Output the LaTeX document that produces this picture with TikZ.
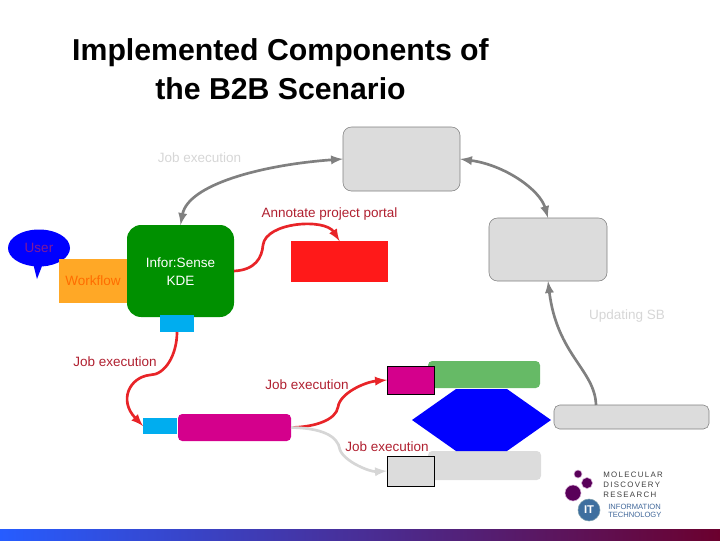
\documentclass[tikz,border=0pt]{standalone}
\usepackage{fontspec}
\setmainfont{Liberation Sans}
\usetikzlibrary{shapes.callouts}

\definecolor{labelred}{RGB}{176,32,48}
\definecolor{labelgrey}{RGB}{214,214,214}
\definecolor{boxgrey}{RGB}{220,220,220}
\definecolor{edgegrey}{RGB}{128,128,128}
\definecolor{kdegreen}{RGB}{0,144,0}
\definecolor{linered}{RGB}{232,36,40}
\definecolor{barmagenta}{RGB}{212,0,140}

\tikzset{
  plainbox/.style={inner sep=0pt,outer sep=0pt},
  greybox/.style={plainbox,draw=edgegrey,fill=boxgrey,rounded corners=6pt},
  blackbox/.style={plainbox,draw=black,line width=0.6pt},
  redlabel/.style={text=labelred,font=\fontsize{9.6}{11}\selectfont,inner sep=0pt},
  greylabel/.style={text=labelgrey,font=\fontsize{9.6}{11}\selectfont,inner sep=0pt},
  greyline/.style={draw=edgegrey,line width=1.9pt,-latex},
  redline/.style={draw=linered,line width=1.9pt,-latex},
  paleline/.style={draw=labelgrey,line width=1.9pt,-latex}
}

\begin{document}
\begin{tikzpicture}[x=0.025cm,y=-0.025cm]

\useasboundingbox (0,0) rectangle (720,540);

\shade[left color=blue!75!cyan!85!white,middle color=blue!45!red!70!white,right color=red!70!blue!60!black] (0,529) rectangle (720,540);

\node[font=\bfseries\fontsize{21.5}{28}\selectfont,align=center,inner sep=0pt] (title) at (280.5,69.5) {Implemented Components of\\the B2B Scenario};

% grey boxes
\node[greybox,minimum width=117*0.025cm,minimum height=64*0.025cm] (portal) at (401.5,159) {};
\node[greybox,minimum width=118*0.025cm,minimum height=63*0.025cm] (sb) at (548,249.5) {};
\node[greybox,rounded corners=4pt,minimum width=155*0.025cm,minimum height=24*0.025cm] (longbox) at (631.5,417) {};
\coordinate (longtop) at (596,405);

% user and workflow
\node[ellipse callout,fill=blue,text=blue!55!red!90!white,font=\fontsize{9.6}{11}\selectfont,minimum width=62*0.025cm,minimum height=37*0.025cm,inner sep=0pt,callout absolute pointer={(37,279)}] (user) at (39,248) {User};
\node[plainbox,fill=orange!80!yellow!85!white,text=orange!85!red,font=\fontsize{9.6}{11}\selectfont,minimum width=68*0.025cm,minimum height=44*0.025cm] (workflow) at (93,281) {Workflow};

% kde
\node[plainbox,fill=kdegreen,rounded corners=10pt,text=white,align=center,font=\fontsize{9.6}{13}\selectfont,minimum width=107*0.025cm,minimum height=92*0.025cm] (kde) at (180.5,271) {};
\node[text=white,align=center,font=\fontsize{9.6}{13}\selectfont,inner sep=0pt] (kdetext) at (180.5,271.5) {Infor:Sense\\KDE};
\node[plainbox,fill=cyan,minimum width=34*0.025cm,minimum height=17*0.025cm] (cyantop) at (177,323.5) {};
\node[plainbox,fill=red!90!white,minimum width=97*0.025cm,minimum height=41*0.025cm] (redbox) at (339.5,261.5) {};

% lower row
\node[plainbox,fill=cyan,minimum width=34*0.025cm,minimum height=16*0.025cm] (cyanlow) at (160,426) {};
\node[plainbox,fill=barmagenta,rounded corners=3pt,minimum width=113*0.025cm,minimum height=27*0.025cm] (bar) at (234.5,427.5) {};

% stack
\node[plainbox,fill=green!55!black!60!white,rounded corners=3pt,minimum width=112*0.025cm,minimum height=27*0.025cm] (greenbox) at (484,374.5) {};
\node[plainbox,fill=boxgrey,rounded corners=3pt,minimum width=113*0.025cm,minimum height=29*0.025cm] (palebox) at (484.5,465.5) {};
\fill[blue] (412,420) -- (456,389) -- (507,389) -- (551,420) -- (507,451) -- (456,451) -- cycle;
\node[blackbox,fill=barmagenta,minimum width=47*0.025cm,minimum height=28*0.025cm] (magbox) at (410.5,380) {};
\node[blackbox,fill=boxgrey,minimum width=47*0.025cm,minimum height=30*0.025cm] (greysmall) at (410.5,471) {};

% connectors
\draw[greyline,latex-latex] (portal.west) .. controls (260,165) and (188,185) .. (kde.north);
\draw[greyline,latex-latex] (portal.east) .. controls (505,165) and (540,190) .. (sb.north);
\draw[greyline] (longtop) .. controls (595,370) and (557,355) .. (sb.south);
\draw[redline] (kde.east) .. controls (255,270) and (262,258) .. (263,245) .. controls (266,222) and (325,218) .. (redbox.north);
\draw[redline] (cyantop.south) .. controls (177,355) and (165,375) .. (150,375) .. controls (130,377) and (118,400) .. (cyanlow.west);
\draw[redline] (bar.east) .. controls (315,427) and (336,420) .. (338,407) .. controls (340,393) and (365,382) .. (magbox.west);
\draw[paleline] (bar.east) .. controls (320,428) and (338,435) .. (340,450) .. controls (345,462) and (370,472) .. (greysmall.west);

% labels
\node[greylabel] (lbljob) at (199.5,157.5) {Job execution};
\node[redlabel] (lblannotate) at (329.5,214.5) {Annotate project portal};
\node[greylabel] (lblsb) at (627,316.5) {Updating SB};
\node[redlabel] (lbljobleft) at (115,361.5) {Job execution};
\node[redlabel] (lbljobmid) at (307,384.5) {Job execution};
\node[redlabel] (lbljoblow) at (387,446.5) {Job execution};

% logo
\fill[violet!70!black,draw=violet!30!white] (578,474) circle (4);
\fill[violet!70!black,draw=violet!30!white] (587,483) circle (5.5);
\fill[violet!70!black,draw=violet!30!white] (573,493) circle (8);
\node[circle,fill=cyan!60!blue!70!black,draw=cyan!30!gray,text=white,inner sep=0pt,minimum size=22*0.025cm,font=\bfseries\fontsize{8}{8}\selectfont] (itlogo) at (589,510) {IT};
\node[font=\fontsize{5.6}{7.1}\selectfont,align=left,inner sep=0pt,anchor=west,text=black!75] (mdr) at (603,485) {M\,O\,L\,E\,C\,U\,L\,A\,R\\D\,I\,S\,C\,O\,V\,E\,R\,Y\\R\,E\,S\,E\,A\,R\,C\,H};
\node[font=\fontsize{5.4}{5.8}\selectfont,align=left,inner sep=0pt,anchor=west,text=cyan!50!blue!70!black] (ittext) at (608,511) {INFORMATION\\TECHNOLOGY};

\end{tikzpicture}
\end{document}
